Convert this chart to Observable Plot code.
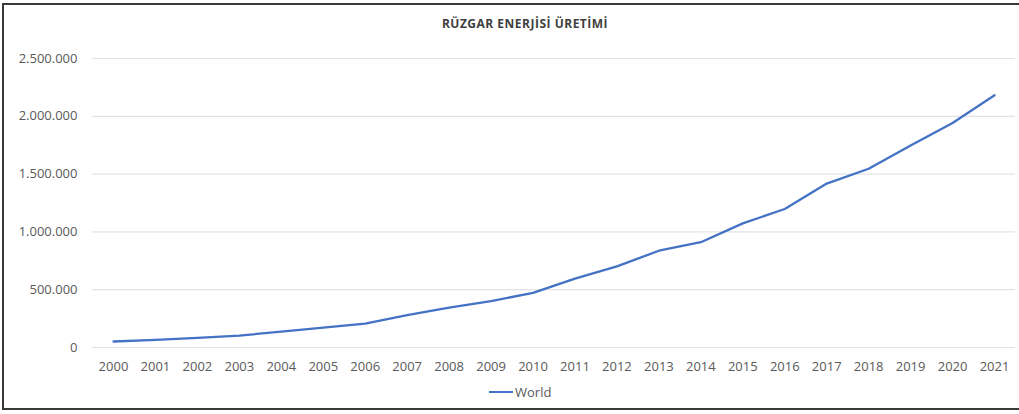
<!DOCTYPE html>
<html>
<head>
<meta charset="utf-8">
<script src="https://cdn.jsdelivr.net/npm/d3@7"></script>
<script src="https://cdn.jsdelivr.net/npm/@observablehq/plot@0.6"></script>
<style>
  html, body { margin: 0; padding: 0; background: #fff; }
  #wrap { position: relative; width: 1019px; height: 414px; overflow: hidden; background: #fff; font-family: "Open Sans", sans-serif; }
  #frame { position: absolute; left: 2px; top: 3px; width: 1030px; height: 407px; border: 2px solid #3a3a3a; box-sizing: border-box; }
  #title { position: absolute; top: 15px; left: 0; width: 1050px; text-align: center; font-weight: bold; font-size: 12px; color: #404040; letter-spacing: 0.5px; }
  #chart { position: absolute; left: 0; top: 0; }
  #legend { position: absolute; top: 383px; left: 489px; display: flex; align-items: center; font-size: 13px; color: #595959; }
  #legend .sw { width: 24px; height: 2.5px; background: #4472C4; margin-right: 2px; }
</style>
</head>
<body>
<div id="wrap">
  <div id="frame"></div>
  <div id="title">RÜZGAR ENERJİSİ ÜRETİMİ</div>
  <div id="chart"></div>
  <div id="legend"><div class="sw"></div><span>World</span></div>
</div>
<script>
const years = [2000, 2001, 2002, 2003, 2004, 2005, 2006, 2007, 2008, 2009, 2010, 2011, 2012, 2013, 2014, 2015, 2016, 2017, 2018, 2019, 2020, 2021];
const world = [52000, 66000, 83000, 103000, 137000, 172000, 206000, 281000, 344000, 401000, 473000, 596000, 702000, 837000, 911000, 1074000, 1198000, 1418000, 1546000, 1747000, 1942000, 2182000];
const yTicks = [0, 500000, 1000000, 1500000, 2000000, 2500000];
const seriesName = "World";

const data = years.map((y, i) => ({year: y, value: world[i], series: seriesName}));
const loc = d3.formatLocale({decimal: ",", thousands: ".", grouping: [3], currency: ["", ""]});
const fmt = loc.format(",");

const chart = Plot.plot({
  width: 1019,
  height: 390,
  marginLeft: 92,
  marginRight: 4,
  marginTop: 58,
  marginBottom: 43,
  style: { fontFamily: "Open Sans, sans-serif", fontSize: "13px", color: "#595959", background: "transparent" },
  x: { type: "linear", domain: [years[0] - 0.5, years[years.length - 1] + 0.5], ticks: years, tickFormat: d => String(d), label: null, tickSize: 0, tickPadding: 14 },
  y: { domain: [0, 2500000], ticks: yTicks, tickFormat: fmt, label: null, tickSize: 0, tickPadding: 15 },
  marks: [
    Plot.ruleY(yTicks, { stroke: "#e3e3e3", strokeWidth: 1.2 }),
    Plot.line(data, { x: "year", y: "value", stroke: "#4472C4", strokeWidth: 2.3, curve: "linear" })
  ]
});
document.getElementById("chart").appendChild(chart);
</script>
</body>
</html>
